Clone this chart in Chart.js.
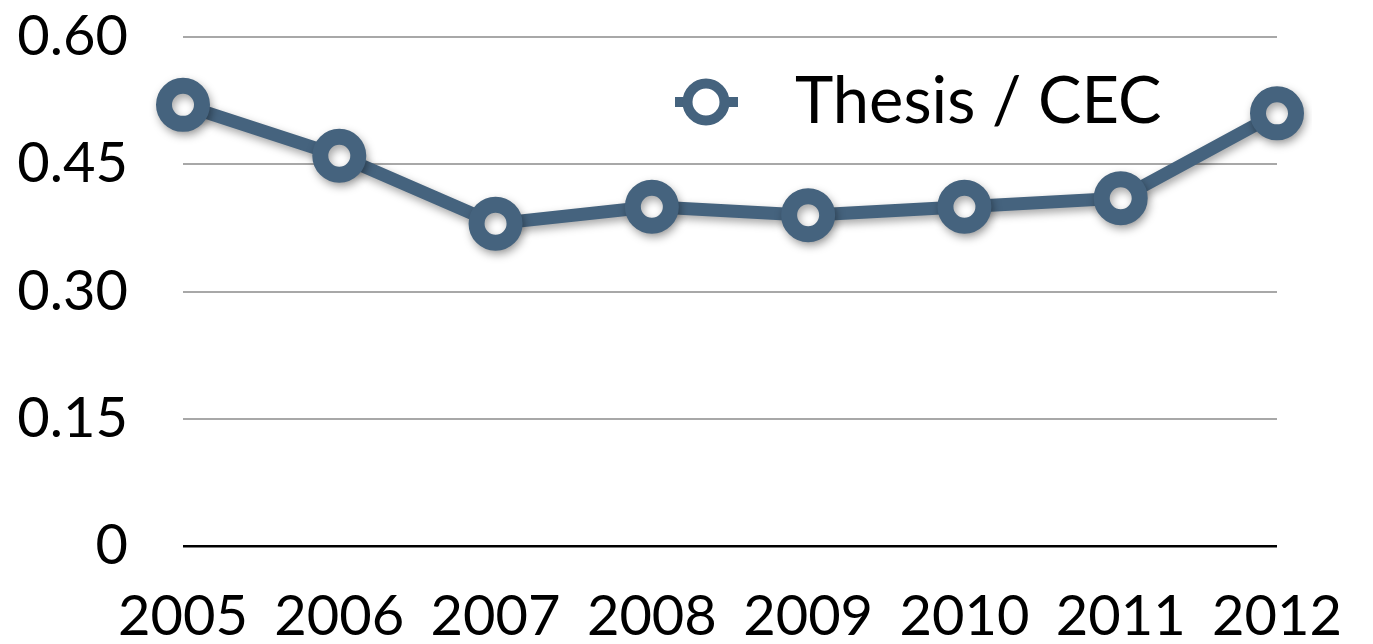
<!DOCTYPE html>
<html lang="en">
<head>
    <meta charset="utf-8">
    <title>Thesis / CEC</title>
    <script src="https://cdn.jsdelivr.net/npm/chart.js@4.4.0/dist/chart.umd.min.js"></script>
    <style>
        body { margin: 0; background: #fff; }
        #wrap { width: 1373px; height: 644px; position: relative; }
    </style>
</head>
<body>
<div id="wrap">
    <canvas id="lineChart"></canvas>
</div>
<script>
    let years = ['2005', '2006', '2007', '2008', '2009', '2010', '2011', '2012'];
    let ratio = [0.52, 0.46, 0.38, 0.40, 0.39, 0.40, 0.41, 0.51];
    let yTickLabels = ['0', '0.15', '0.30', '0.45', '0.60'];
    let seriesName = 'Thesis / CEC';

    const lineColor = '#45637e';
    const fontFamily = 'Lato, "Open Sans", sans-serif';

    // soft drop shadow under the line and markers
    const shadowPlugin = {
        id: 'shadow',
        beforeDatasetsDraw(chart) {
            const ctx = chart.ctx;
            ctx.save();
            ctx.shadowColor = 'rgba(0, 0, 0, 0.35)';
            ctx.shadowBlur = 8;
            ctx.shadowOffsetX = 2;
            ctx.shadowOffsetY = 4;
        },
        afterDatasetsDraw(chart) {
            chart.ctx.restore();
        }
    };

    // legend sits inside the plot, top right
    const legendPlugin = {
        id: 'innerLegend',
        afterDatasetsDraw(chart) {
            const ctx = chart.ctx;
            const ds = chart.data.datasets[0];
            ctx.save();
            ctx.strokeStyle = lineColor;
            ctx.lineWidth = 10;
            ctx.beginPath();
            ctx.moveTo(675, 102);
            ctx.lineTo(738, 102);
            ctx.stroke();
            ctx.beginPath();
            ctx.arc(706, 102, 18.5, 0, Math.PI * 2);
            ctx.fillStyle = '#fff';
            ctx.fill();
            ctx.stroke();
            ctx.fillStyle = '#000';
            ctx.font = '65px ' + fontFamily;
            ctx.textBaseline = 'alphabetic';
            ctx.fillText(ds.label, 795, 123);
            ctx.restore();
        }
    };

    let ctx = document.getElementById('lineChart').getContext('2d');
    let myLineChart = new Chart(ctx, {
        type: 'line',
        data: {
            labels: years,
            datasets: [{
                label: seriesName,
                data: ratio,
                borderColor: lineColor,
                borderWidth: 13,
                pointRadius: 19,
                pointBorderWidth: 16,
                pointBackgroundColor: '#fff',
                pointBorderColor: lineColor,
                tension: 0
            }]
        },
        options: {
            responsive: true,
            maintainAspectRatio: false,
            animation: false,
            layout: {
                padding: {top: 37, right: 96, left: 0, bottom: 0}
            },
            plugins: {
                legend: {display: false},
                tooltip: {enabled: false}
            },
            scales: {
                x: {
                    offset: false,
                    grid: {display: false, drawTicks: false},
                    border: {display: false},
                    ticks: {
                        color: '#000',
                        padding: 37,
                        maxRotation: 0,
                        autoSkip: false,
                        font: {family: fontFamily, size: 56}
                    },
                    afterFit(scale) {
                        scale.height = 98;
                        scale.paddingLeft = 0;
                        scale.paddingRight = 0;
                    }
                },
                y: {
                    min: 0,
                    max: 0.6,
                    grid: {
                        drawTicks: false,
                        color: (c) => c.tick && c.tick.value === 0 ? '#000' : '#a8a8a8',
                        lineWidth: (c) => c.tick && c.tick.value === 0 ? 2.5 : 2
                    },
                    border: {display: false},
                    ticks: {
                        stepSize: 0.15,
                        color: '#000',
                        padding: 55,
                        font: {family: fontFamily, size: 56},
                        callback: (value, index) => yTickLabels[index]
                    },
                    afterFit(scale) {
                        scale.width = 183;
                        scale.paddingTop = 0;
                        scale.paddingBottom = 0;
                    }
                }
            }
        },
        plugins: [shadowPlugin, legendPlugin]
    });
</script>
</body>
</html>
